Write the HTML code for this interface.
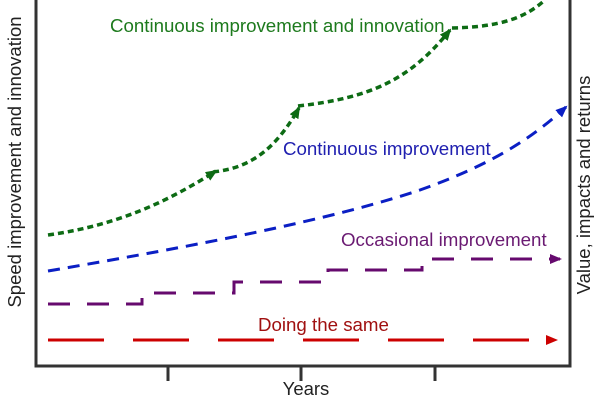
<!DOCTYPE html>
<html><head><style>body{margin:0;background:#fff}svg{display:block}text{font-family:"Liberation Sans",sans-serif}</style></head>
<body>
<svg width="600" height="400" viewBox="0 0 600 400">
<defs>
<marker id="ag" markerWidth="14" markerHeight="12" refX="10" refY="6" orient="auto" markerUnits="userSpaceOnUse"><path d="M0,1 L12,6 L0,11 z" fill="#0d6b14"/></marker>
<marker id="ab" markerWidth="14" markerHeight="12" refX="10" refY="6" orient="auto" markerUnits="userSpaceOnUse"><path d="M0,1 L12,6 L0,11 z" fill="#0b1fc4"/></marker>
<marker id="ap" markerWidth="14" markerHeight="12" refX="10" refY="6" orient="auto" markerUnits="userSpaceOnUse"><path d="M0,1 L12,6 L0,11 z" fill="#660a6e"/></marker>
<marker id="ar" markerWidth="14" markerHeight="12" refX="10" refY="6" orient="auto" markerUnits="userSpaceOnUse"><path d="M0,1 L12,6 L0,11 z" fill="#c00"/></marker>
</defs>
<path d="M36,0 V366 H570 V0" fill="none" stroke="#333" stroke-width="3"/>
<g stroke="#333" stroke-width="3"><line x1="168" y1="366" x2="168" y2="381"/><line x1="301" y1="366" x2="301" y2="381"/><line x1="435" y1="366" x2="435" y2="381"/></g>
<text x="306" y="395" font-size="18.5" fill="#222" text-anchor="middle">Years</text>
<text transform="translate(21,162) rotate(-90)" font-size="18.5" fill="#222" text-anchor="middle">Speed improvement and innovation</text>
<text transform="translate(590,185) rotate(-90)" font-size="18.5" fill="#222" text-anchor="middle">Value, impacts and returns</text>
<line x1="48" y1="340" x2="556" y2="340" stroke="#c00" stroke-width="3" stroke-dasharray="56,29" marker-end="url(#ar)"/>
<text x="258" y="331" font-size="18.7" fill="#a01010">Doing the same</text>
<path d="M48,304 H142 V293 H234 V282 H328 V270 H422 V259 H560" fill="none" stroke="#660a6e" stroke-width="3" stroke-dasharray="22,17" marker-end="url(#ap)"/>
<text x="341" y="246" font-size="18.7" fill="#6a1a72">Occasional improvement</text>
<path d="M48,271 C200,245 330,220 420,190 C490,165 530,140 566,107" fill="none" stroke="#0b1fc4" stroke-width="3" stroke-dasharray="12,8" marker-end="url(#ab)"/>
<text x="283" y="155" font-size="18.7" fill="#2020b0">Continuous improvement</text>
<path d="M48,235 C120,225 170,200 216,171" fill="none" stroke="#0d6b14" stroke-width="3.5" stroke-dasharray="6,4" marker-end="url(#ag)"/>
<path d="M213,172 C250,168 275,150 299,108" fill="none" stroke="#0d6b14" stroke-width="3.5" stroke-dasharray="6,4" marker-end="url(#ag)"/>
<path d="M298,106 C370,98 410,80 450,30" fill="none" stroke="#0d6b14" stroke-width="3.5" stroke-dasharray="6,4" marker-end="url(#ag)"/>
<path d="M452,28 C500,27 525,18 545,0" fill="none" stroke="#0d6b14" stroke-width="3.5" stroke-dasharray="6,4"/>
<text x="110" y="32" font-size="18.7" fill="#1d7a1d">Continuous improvement and innovation</text>
</svg>
</body></html>
